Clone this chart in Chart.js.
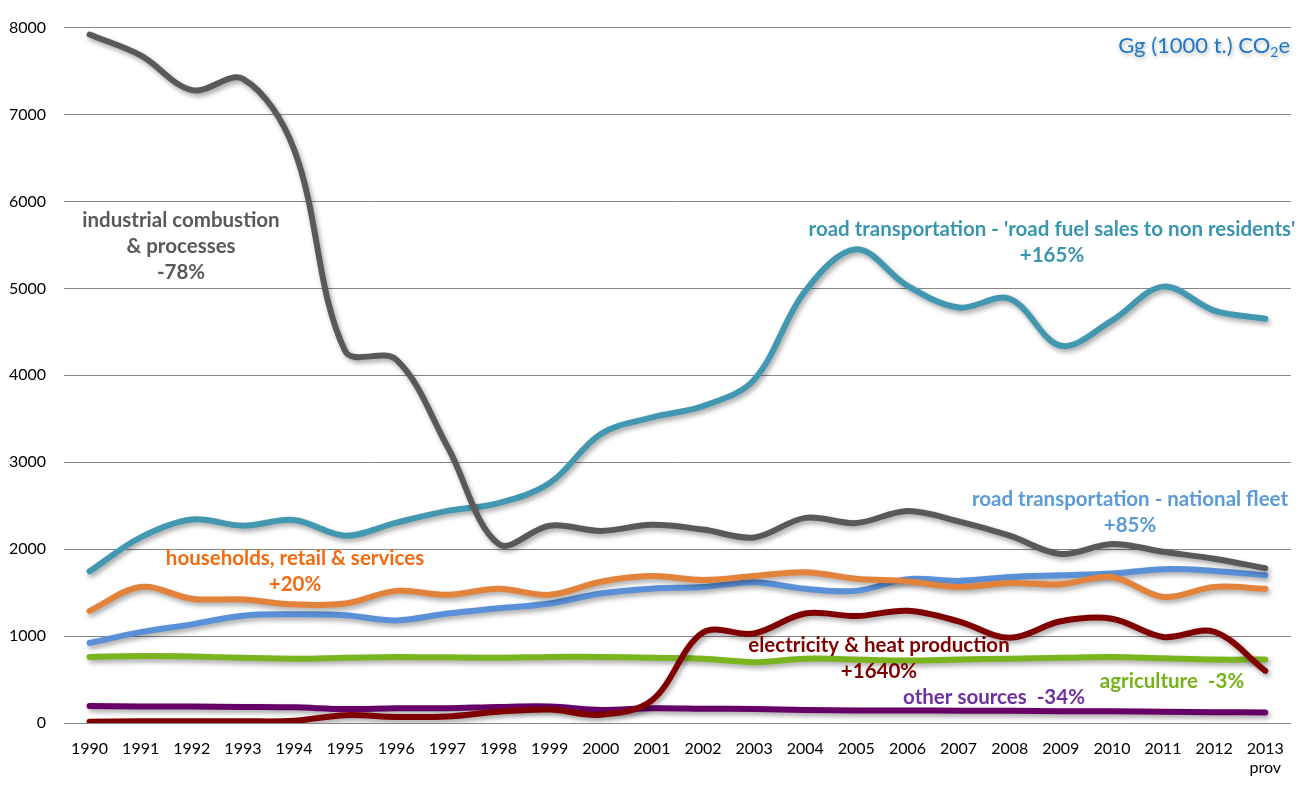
<!DOCTYPE html>
<html>
<head>
<meta charset="utf-8">
<title>Greenhouse gas emissions by sector</title>
<script src="https://cdn.jsdelivr.net/npm/chart.js@4.4.1/dist/chart.umd.min.js"></script>
<style>
	html, body { margin: 0; padding: 0; background: #ffffff; }
	#wrap { width: 1300px; height: 785px; position: relative; }
</style>
</head>
<body>
<div id="wrap"><canvas id="emissionsChart" width="1300" height="785"></canvas></div>
<script>
const years = ['1990','1991','1992','1993','1994','1995','1996','1997','1998','1999','2000','2001',
	'2002','2003','2004','2005','2006','2007','2008','2009','2010','2011','2012',['2013','prov']];

const industrial = [7920,7680,7280,7410,6600,4280,4180,3180,2060,2270,2210,2280,2225,2135,2360,2300,2440,2320,2155,1945,2060,1970,1890,1780];
const roadFuelSales = [1745,2135,2340,2270,2335,2155,2305,2440,2530,2760,3325,3515,3645,3950,4970,5450,5030,4780,4880,4340,4630,5020,4745,4650];
const households = [1290,1565,1430,1420,1365,1375,1520,1475,1545,1475,1625,1690,1645,1690,1735,1660,1630,1565,1610,1595,1680,1450,1565,1545];
const nationalFleet = [920,1045,1135,1235,1250,1240,1180,1260,1320,1375,1490,1545,1565,1620,1545,1520,1655,1635,1680,1700,1720,1770,1750,1700];
const electricity = [15,20,20,20,25,90,70,75,130,155,95,260,1040,1030,1260,1230,1290,1170,980,1170,1200,990,1050,600];
const agriculture = [760,770,765,750,740,750,760,755,750,760,760,750,740,700,740,730,720,730,740,750,760,745,730,730];
const otherSources = [195,190,190,185,180,160,170,170,185,190,150,170,165,160,150,145,145,140,140,135,135,130,125,120];

const yTicks = [0,1000,2000,3000,4000,5000,6000,7000,8000];

function series(label, data, color){
	return {
		label: label,
		data: data,
		borderColor: color,
		backgroundColor: color,
		borderWidth: 6,
		borderCapStyle: 'round',
		borderJoinStyle: 'round',
		pointRadius: 0,
		fill: false,
		tension: 0.35
	};
}

// soft drop shadow under every line, like the original
const lineShadow = {
	id: 'lineShadow',
	beforeDatasetDraw(chart){
		const ctx = chart.ctx;
		ctx.save();
		ctx.shadowColor = 'rgba(0,0,0,0.35)';
		ctx.shadowBlur = 5;
		ctx.shadowOffsetX = 2;
		ctx.shadowOffsetY = 3;
	},
	afterDatasetDraw(chart){
		chart.ctx.restore();
	}
};

// annotation texts beside the lines
const notes = [
	{lines: ['industrial combustion', '& processes', '-78%'], x: 181, y: 220, color: '#595959'},
	{lines: ["road transportation - 'road fuel sales to non residents'", '+165%'], x: 1052, y: 229, color: '#3a96ae'},
	{lines: ['road transportation - national fleet', '+85%'], x: 1130, y: 499, color: '#5b9bd5'},
	{lines: ['households, retail & services', '+20%'], x: 295, y: 558, color: '#f46a0e'},
	{lines: ['electricity & heat production', '+1640%'], x: 879, y: 645, color: '#7f0000'},
	{lines: ['agriculture  -3%'], x: 1172, y: 681, color: '#76b31b'},
	{lines: ['other sources  -34%'], x: 994, y: 697, color: '#7030a0'}
];

const annotations = {
	id: 'annotations',
	afterDraw(chart){
		const ctx = chart.ctx;
		ctx.save();
		ctx.textAlign = 'center';
		ctx.textBaseline = 'middle';
		ctx.font = 'bold 20.5px Lato';
		notes.forEach(n => {
			ctx.fillStyle = n.color;
			n.lines.forEach((t, i) => ctx.fillText(t, n.x, n.y + i * 26));
		});

		// unit label with glow, right aligned at the plot edge
		ctx.shadowColor = 'rgba(0,0,0,0.3)';
		ctx.shadowBlur = 4;
		ctx.shadowOffsetX = 1;
		ctx.shadowOffsetY = 2;
		ctx.fillStyle = '#1f78c8';
		ctx.textAlign = 'left';
		const big = '22px Lato', small = '14px Lato';
		const a = 'Gg (1000 t.) CO';
		ctx.font = big;
		const wa = ctx.measureText(a).width, we = ctx.measureText('e').width;
		ctx.font = small;
		const w2 = ctx.measureText('2').width;
		let x = 1290 - wa - w2 - we;
		const y = 46;
		ctx.font = big;
		ctx.fillText(a, x, y);
		x += wa;
		ctx.font = small;
		ctx.fillText('2', x, y + 6);
		x += w2;
		ctx.font = big;
		ctx.fillText('e', x, y);
		ctx.restore();
	}
};

const ctx = document.getElementById('emissionsChart').getContext('2d');
const emissionsChart = new Chart(ctx, {
	type: 'line',
	data: {
		labels: years,
		datasets: [
			series('industrial combustion & processes', industrial, '#595959'),
			series('electricity & heat production', electricity, '#800000'),
			series('households, retail & services', households, '#e3823b'),
			series('road transportation - national fleet', nationalFleet, '#5a90d8'),
			series("road transportation - 'road fuel sales to non residents'", roadFuelSales, '#4198b0'),
			series('agriculture', agriculture, '#7ab51f'),
			series('other sources', otherSources, '#660066')
		]
	},
	plugins: [lineShadow, annotations],
	options: {
		responsive: false,
		animation: false,
		layout: { padding: { top: 1, right: 7, left: 0, bottom: 0 } },
		plugins: {
			legend: { display: false },
			tooltip: { enabled: false }
		},
		scales: {
			x: {
				offset: true,
				grid: { display: false, drawTicks: false },
				border: { display: false },
				ticks: {
					color: '#000000',
					font: { family: 'Lato', size: 16 },
					padding: 16,
					maxRotation: 0,
					autoSkip: false
				},
				afterFit: s => { s.height = 62; }
			},
			y: {
				min: 0,
				max: 8000,
				afterBuildTicks: s => { s.ticks = yTicks.map(v => ({value: v})); },
				grid: { color: '#868686', lineWidth: 1, drawTicks: false },
				border: { display: false },
				ticks: {
					color: '#000000',
					font: { family: 'Lato', size: 16 },
					padding: 18,
					callback: v => String(v)
				},
				afterFit: s => { s.width = 64; }
			}
		}
	}
});
</script>
</body>
</html>
